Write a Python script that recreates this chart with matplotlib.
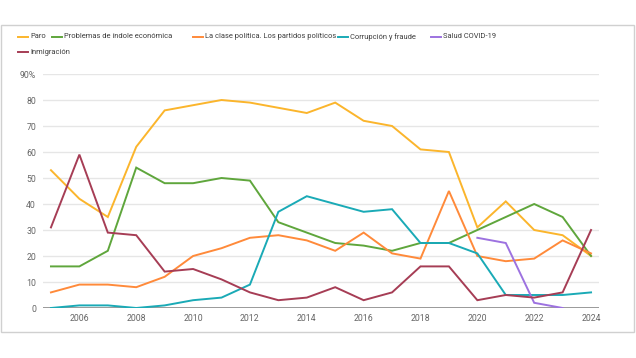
import numpy as np
import matplotlib
matplotlib.use("Agg")
import matplotlib.pyplot as plt
from matplotlib.lines import Line2D
from matplotlib.patches import Rectangle

years = list(range(2005, 2025))
paro = [53, 42, 35, 62, 76, 78, 80, 79, 77, 75, 79, 72, 70, 61, 60, 31, 41, 30, 28, 20]
economia = [16, 16, 22, 54, 48, 48, 50, 49, 33, 29, 25, 24, 22, 25, 25, 30, 35, 40, 35, 20]
politica = [6, 9, 9, 8, 12, 20, 23, 27, 28, 26, 22, 29, 21, 19, 45, 20, 18, 19, 26, 21]
corrupcion = [0, 1, 1, 0, 1, 3, 4, 9, 37, 43, 40, 37, 38, 25, 25, 21, 5, 5, 5, 6]
covid = [np.nan] * 15 + [27, 25, 2, 0, np.nan]
inmigracion = [31, 59, 29, 28, 14, 15, 11, 6, 3, 4, 8, 3, 6, 16, 16, 3, 5, 4, 6, 30]

series_names = ["Paro", "Problemas de índole económica",
                "La clase política. Los partidos políticos",
                "Corrupción y fraude", "Salud COVID-19", "Inmigración"]
series_vals = [paro, economia, politica, corrupcion, covid, inmigracion]
colors = ["#FBB52C", "#5FA63C", "#FF8A3A", "#1AAAB6", "#9D72E0", "#A63D55"]

xticks = list(range(2006, 2025, 2))
yticks = [0, 10, 20, 30, 40, 50, 60, 70, 80, 90]
ylabels = ["0", "10", "20", "30", "40", "50", "60", "70", "80", "90%"]

plt.rcParams['font.family'] = ['Roboto', 'DejaVu Sans']

W, H = 636, 358
fig = plt.figure(figsize=(W / 100, H / 100), dpi=100)

# outer border
fig.patches.append(Rectangle((1 / W, 1 - 332 / H), 633 / W, 307 / H,
                             transform=fig.transFigure, fill=False,
                             edgecolor="#d0d0d0", lw=1.0))

ax = fig.add_axes([43 / W, 1 - 308 / H, 556 / W, 234 / H])
for name, vals, c in zip(series_names, series_vals, colors):
    ax.plot(years, vals, color=c, lw=1.4, solid_joinstyle="miter", zorder=3)

ax.set_xlim(2004.72, 2024.28)
ax.set_ylim(0, 90)
ax.set_yticks(yticks)
ax.set_yticklabels(ylabels)
ax.set_xticks(xticks)
ax.set_xticklabels([str(x) for x in xticks])
ax.tick_params(axis="both", length=0, labelsize=6.3, colors="#666666")
ax.tick_params(axis="y", pad=5)
ax.tick_params(axis="x", pad=4)
for s in ax.spines.values():
    s.set_visible(False)
ax.grid(axis="y", color="#e6e6e6", lw=1.0, zorder=0)
ax.axhline(0, color="#9a9a9a", lw=1.4, zorder=2)

# legend (manual)
leg_items = [(0, 18, 37), (1, 52, 37), (2, 193, 37), (3, 338, 37), (4, 431, 37), (5, 18, 52)]
for idx, lx, ly in leg_items:
    yf = 1 - ly / H
    fig.add_artist(Line2D([lx / W, (lx + 10) / W], [yf, yf], transform=fig.transFigure,
                          color=colors[idx], lw=1.4))
    fig.text((lx + 12) / W, yf, series_names[idx], fontsize=5.4, color="#3c3c3c",
             va="center", ha="left")

fig.savefig("out.png", dpi=100, facecolor="white")
